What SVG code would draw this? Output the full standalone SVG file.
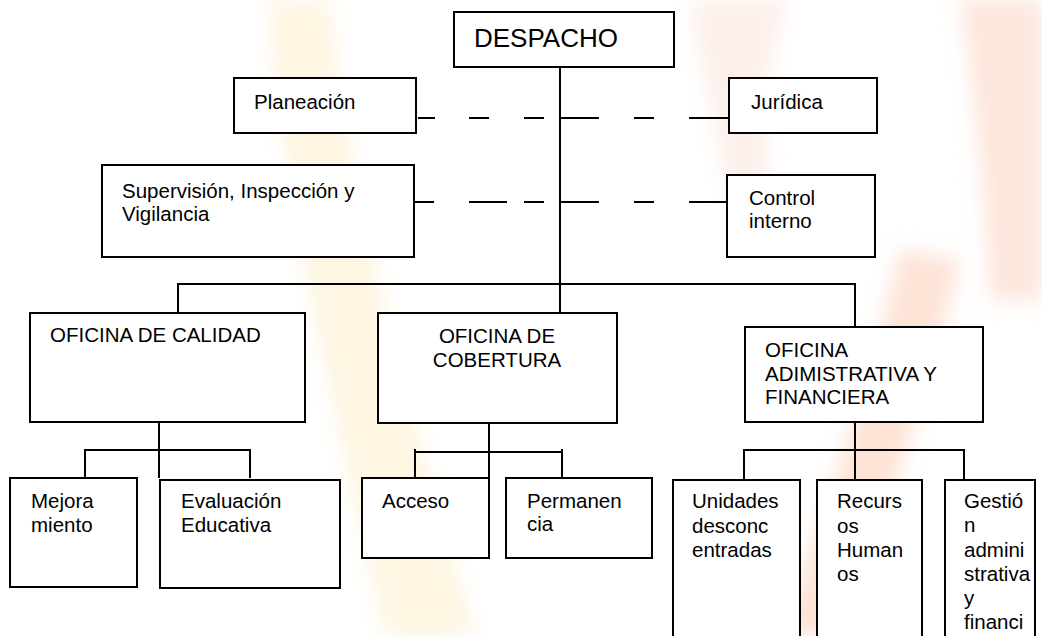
<svg xmlns="http://www.w3.org/2000/svg" width="1042" height="636" viewBox="0 0 1042 636">
  <style>
    .box { fill: #ffffff; stroke: #000000; stroke-width: 2; }
    .ln { stroke: #000000; stroke-width: 2; fill: none; }
    .t { font-family: "Liberation Sans", Arial, sans-serif; font-size: 20.5px; fill: #000000; }
    .big { font-family: "Liberation Sans", Arial, sans-serif; font-size: 26px; fill: #000000; }
  </style>
  <defs>
    <filter id="soft" x="-20%" y="-20%" width="140%" height="140%">
      <feGaussianBlur stdDeviation="10"/>
    </filter>
  </defs>
  <rect width="1042" height="636" fill="#ffffff"/>
  <g id="watermark" filter="url(#soft)">
    <path d="M268,0 L330,0 C350,220 420,430 475,636 L385,636 C340,430 285,220 268,0 Z" fill="#fef5e2"/>
    <path d="M960,0 L1042,0 L1042,300 L990,300 C985,200 975,90 960,0 Z" fill="#fde6dc"/>
    <path d="M690,0 L790,0 C770,40 760,120 770,200 L730,200 C715,120 700,60 690,0 Z" fill="#fdf0ea"/>
    <path d="M900,250 L960,260 C930,390 880,520 850,636 L780,636 C820,520 870,390 900,250 Z" fill="#fde3d6"/>
  </g>

  <g id="connectors">
    <line class="ln" x1="560" y1="67" x2="560" y2="315"/>
    <line class="ln" x1="418" y1="118" x2="435" y2="118"/>
    <line class="ln" x1="469" y1="118" x2="489" y2="118"/>
    <line class="ln" x1="524" y1="118" x2="544" y2="118"/>
    <line class="ln" x1="561" y1="118" x2="599" y2="118"/>
    <line class="ln" x1="634" y1="118" x2="654" y2="118"/>
    <line class="ln" x1="689" y1="118" x2="729" y2="118"/>
    <line class="ln" x1="415" y1="202" x2="434" y2="202"/>
    <line class="ln" x1="469" y1="202" x2="507" y2="202"/>
    <line class="ln" x1="524" y1="202" x2="544" y2="202"/>
    <line class="ln" x1="561" y1="202" x2="599" y2="202"/>
    <line class="ln" x1="634" y1="202" x2="654" y2="202"/>
    <line class="ln" x1="689" y1="202" x2="727" y2="202"/>
    <polyline class="ln" points="178,313 178,284 855,284 855,339"/>
    <line class="ln" x1="159" y1="422" x2="159" y2="478"/>
    <polyline class="ln" points="85,478 85,450 250,450 250,478"/>
    <line class="ln" x1="489" y1="423" x2="489" y2="478"/>
    <polyline class="ln" points="415,478 415,452 562,452 562,478"/>
    <line class="ln" x1="415" y1="449" x2="415" y2="452"/>
    <line class="ln" x1="562" y1="449" x2="562" y2="452"/>
    <line class="ln" x1="855" y1="422" x2="855" y2="480"/>
    <polyline class="ln" points="744,480 744,450 964,450 964,480"/>
  </g>

  <g id="despacho">
    <rect class="box" x="454" y="12" width="220" height="55"/>
    <text class="big" x="474" y="47">DESPACHO</text>
  </g>
  <g id="planeacion">
    <rect class="box" x="234" y="78" width="182" height="55"/>
    <text class="t" x="254" y="109">Planeación</text>
  </g>
  <g id="juridica">
    <rect class="box" x="729" y="78" width="148" height="55"/>
    <text class="t" x="751" y="109">Jurídica</text>
  </g>
  <g id="supervision">
    <rect class="box" x="102" y="165" width="312" height="92"/>
    <text class="t" x="122" y="198">Supervisión, Inspección y</text>
    <text class="t" x="122" y="221">Vigilancia</text>
  </g>
  <g id="control">
    <rect class="box" x="727" y="175" width="148" height="82"/>
    <text class="t" x="749" y="205">Control</text>
    <text class="t" x="749" y="228">interno</text>
  </g>
  <g id="calidad">
    <rect class="box" x="30" y="313" width="275" height="109"/>
    <text class="t" x="50" y="342">OFICINA DE CALIDAD</text>
  </g>
  <g id="cobertura">
    <rect class="box" x="378" y="313" width="239" height="110"/>
    <text class="t" x="497" y="343" text-anchor="middle">OFICINA DE</text>
    <text class="t" x="497" y="367" text-anchor="middle">COBERTURA</text>
  </g>
  <g id="administrativa">
    <rect class="box" x="745" y="327" width="238" height="95"/>
    <text class="t" x="765" y="357">OFICINA</text>
    <text class="t" x="765" y="381">ADIMISTRATIVA Y</text>
    <text class="t" x="765" y="404">FINANCIERA</text>
  </g>
  <g id="mejoramiento">
    <rect class="box" x="10" y="478" width="127" height="109"/>
    <text class="t" x="31" y="508">Mejora</text>
    <text class="t" x="31" y="532">miento</text>
  </g>
  <g id="evaluacion">
    <rect class="box" x="160" y="480" width="180" height="108"/>
    <text class="t" x="181" y="508">Evaluación</text>
    <text class="t" x="181" y="532">Educativa</text>
  </g>
  <g id="acceso">
    <rect class="box" x="362" y="478" width="127" height="80"/>
    <text class="t" x="382" y="508">Acceso</text>
  </g>
  <g id="permanencia">
    <rect class="box" x="506" y="478" width="146" height="80"/>
    <text class="t" x="527" y="508">Permanen</text>
    <text class="t" x="527" y="531">cia</text>
  </g>
  <g id="unidades">
    <rect class="box" x="673" y="480" width="127" height="170"/>
    <text class="t" x="692" y="508">Unidades</text>
    <text class="t" x="692" y="533">desconc</text>
    <text class="t" x="692" y="557">entradas</text>
  </g>
  <g id="recursos">
    <rect class="box" x="817" y="480" width="105" height="170"/>
    <text class="t" x="837" y="508">Recurs</text>
    <text class="t" x="837" y="533">os</text>
    <text class="t" x="837" y="557">Human</text>
    <text class="t" x="837" y="581">os</text>
  </g>
  <g id="gestion">
    <rect class="box" x="945" y="480" width="90" height="170"/>
    <text class="t" x="964" y="508">Gestió</text>
    <text class="t" x="964" y="532">n</text>
    <text class="t" x="964" y="557">admini</text>
    <text class="t" x="964" y="581">strativa</text>
    <text class="t" x="964" y="605">y</text>
    <text class="t" x="964" y="629">financi</text>
  </g>
</svg>
